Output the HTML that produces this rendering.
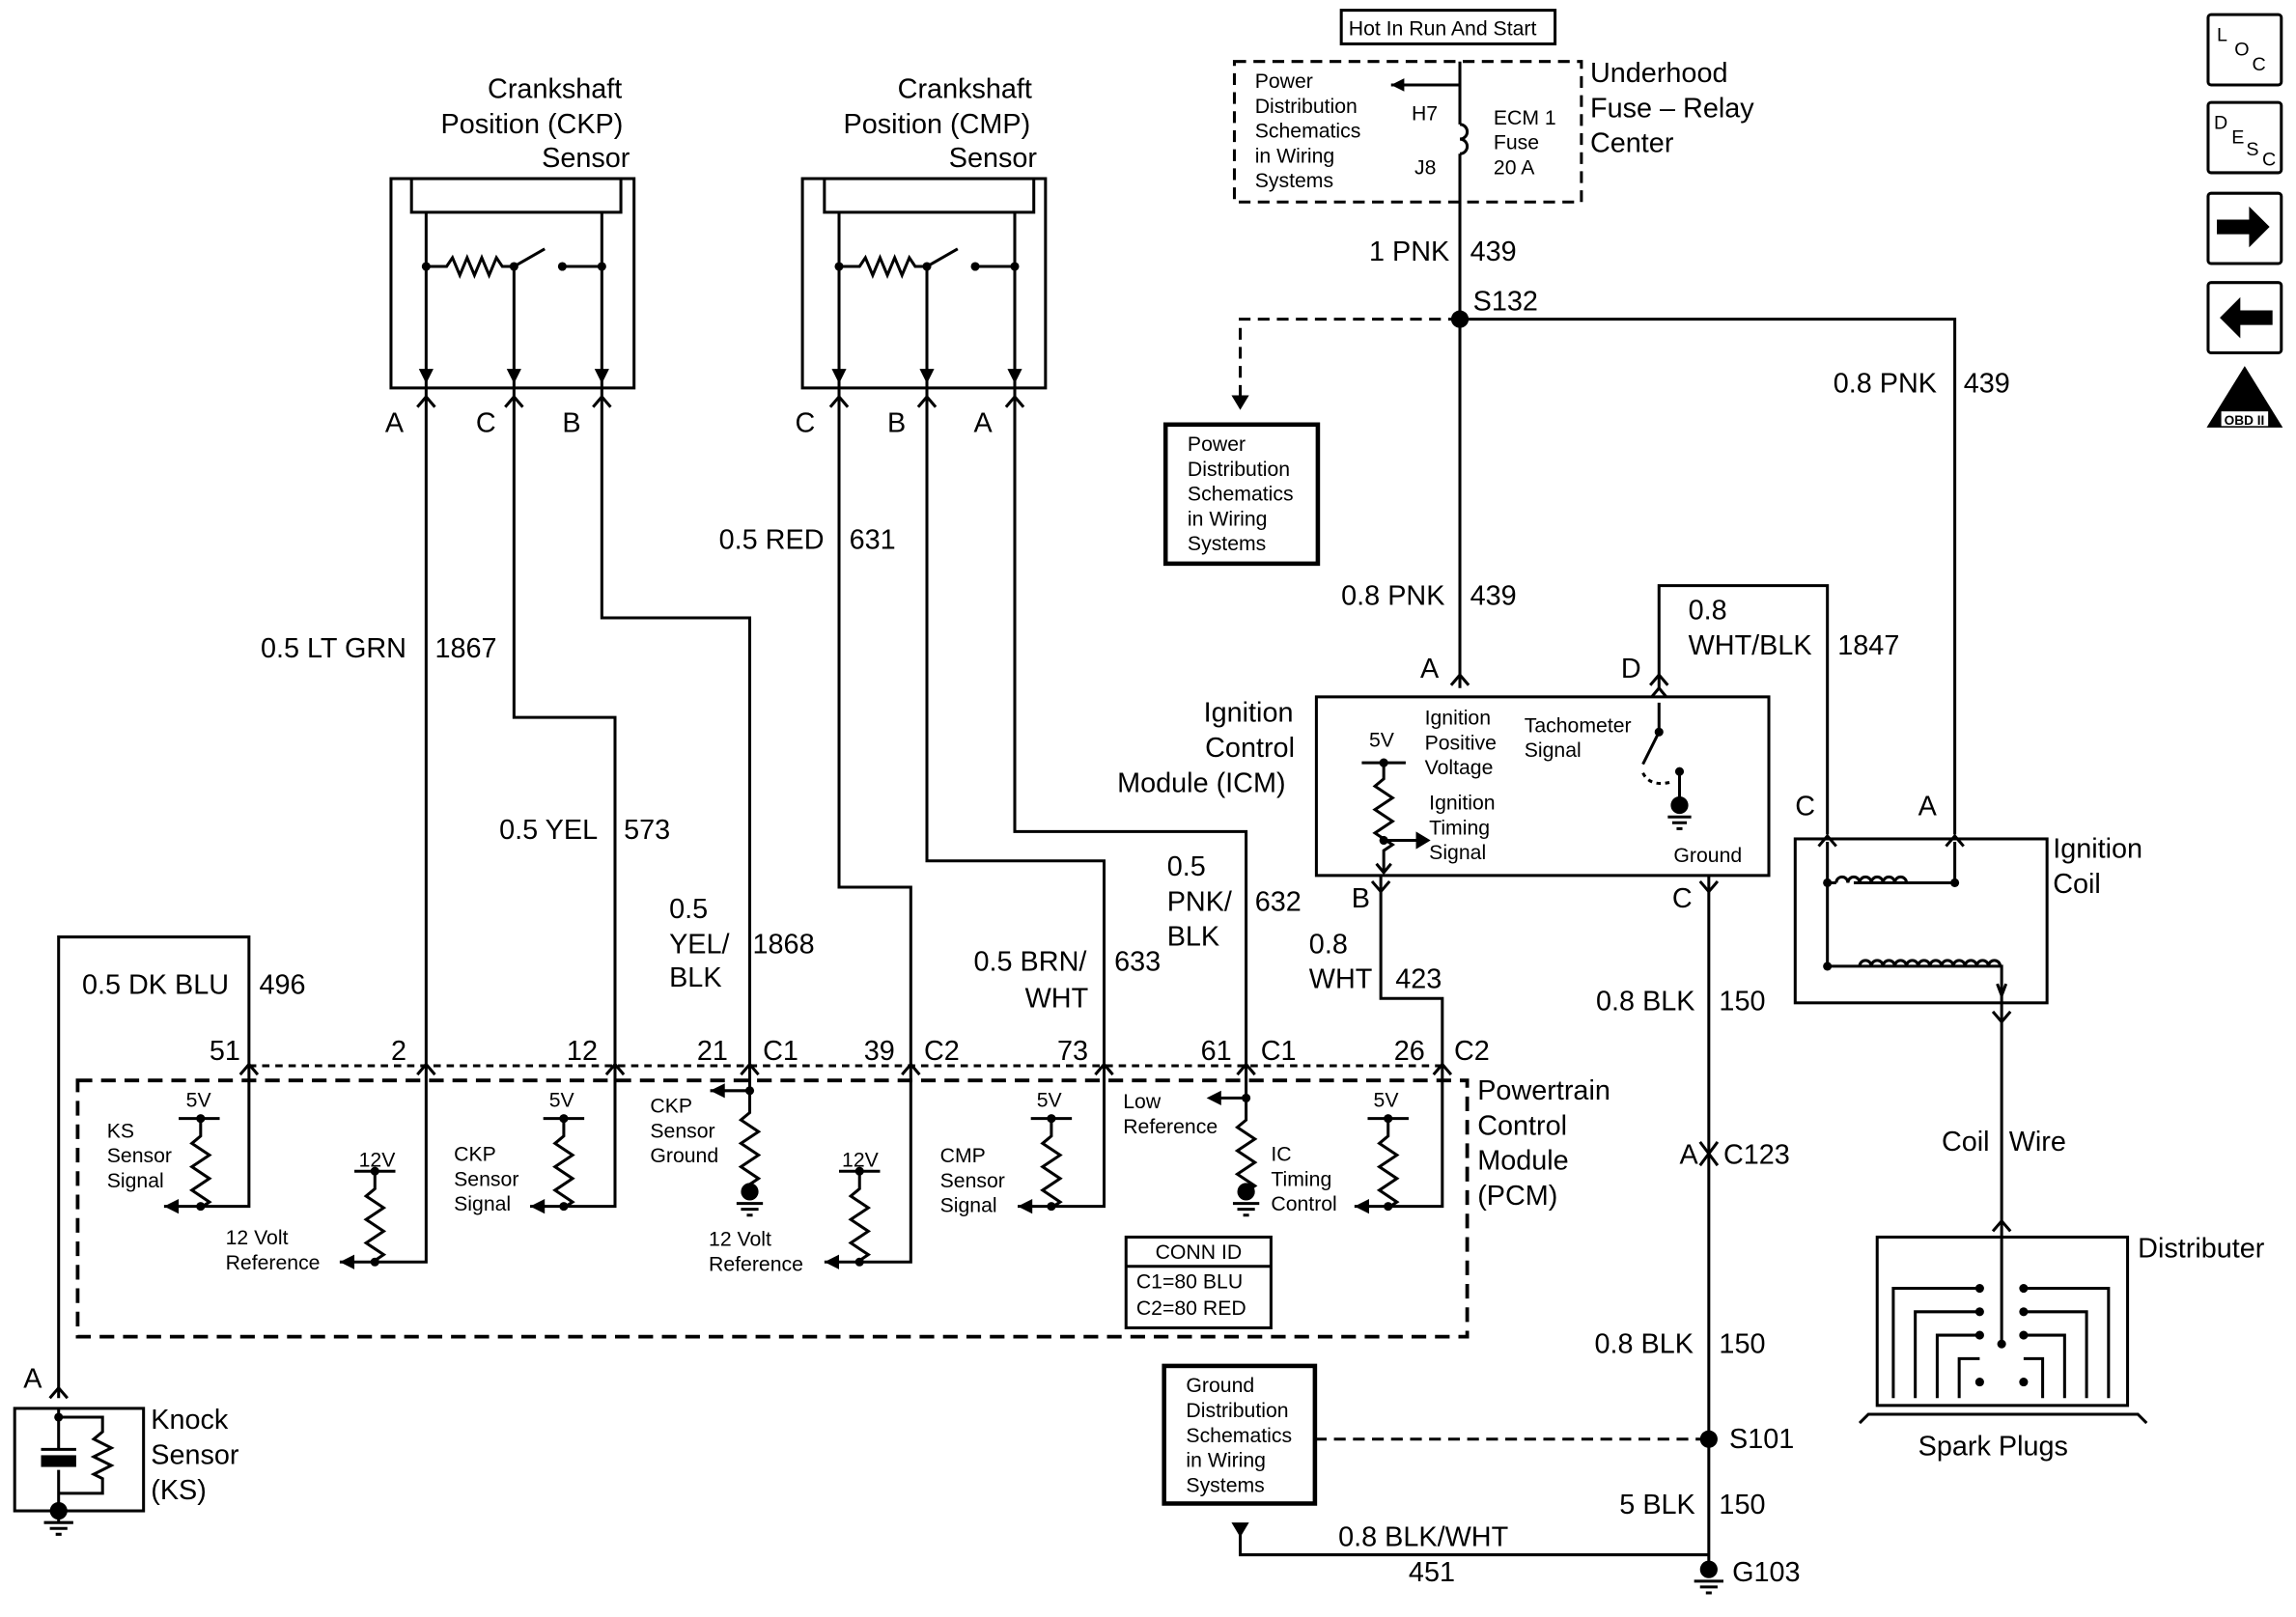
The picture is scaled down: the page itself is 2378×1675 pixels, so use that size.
<!DOCTYPE html>
<html><head><meta charset="utf-8"><style>
html,body{margin:0;padding:0;background:#fff}
svg{display:block}
text{font-family:"Liberation Sans",Arial,sans-serif;fill:#000}
.l{font-size:19px}
.s{font-size:14px}
</style></head><body>
<svg width="2378" height="1675" viewBox="0 0 1568 1104.5" xmlns="http://www.w3.org/2000/svg">
<defs>
<marker id="ar" viewBox="0 0 10 10" refX="10" refY="5" markerWidth="9" markerHeight="9" orient="auto" markerUnits="userSpaceOnUse"><path d="M0,0 L10,5 L0,10 z"/></marker>
</defs>
<g fill="none" stroke="#000" stroke-width="2">
<rect x="916" y="7" width="146" height="23"/>
<rect x="843" y="42" width="237" height="96" stroke-dasharray="8,5"/>
<rect x="796" y="290" width="104" height="95" stroke-width="3"/>
<rect x="795" y="933" width="103" height="94" stroke-width="3"/>
<path d="M997,42 V85 M997,105 V470"/>
<path d="M997,85 a5,5 0 0 1 0,10 a5,5 0 0 1 0,10"/>
<path d="M997,58 H950" marker-end="url(#ar)"/>
<path d="M997,218 H1335 V570"/>
<path d="M997,218 H847 V278" stroke-dasharray="8,5"/>
<rect x="267" y="122" width="166" height="143"/>
<rect x="281" y="122" width="143" height="23"/>
<path d="M291,145 V265 M291,182 H305 l4,-6 5,12 5,-12 5,12 5,-12 5,12 5,-12 4,6 H351 V265 M351,182 L372,170 M384,182 H411 V265 M411,145 V265 M291,265 V728 M351,265 V490 H420 V728 M411,265 V422 H512 V728"/>
<rect x="548" y="122" width="166" height="143"/>
<rect x="563" y="122" width="143" height="23"/>
<path d="M573,145 V265 M573,182 H587 l4,-6 5,12 5,-12 5,12 5,-12 5,12 5,-12 4,6 H633 V265 M633,182 L654,170 M666,182 H693 V265 M693,145 V265 M573,265 V606 H622 V728 M633,265 V588 H754 V728 M693,265 V568 H851 V728"/>
<rect x="899" y="476" width="309" height="122"/>
<path d="M943,598 V682 H985 V728 M1167,598 V1075 M1133,470 V400 H1248 V570"/>
<path d="M930,521 H960 M945,521 V532 l-6,5 12,8 -12,8 12,8 -12,8 12,8 -6,4 V595 M945,574 H970"/>
<path d="M1133,480 V500 M1133,500 L1122,522 M1147,527 V548"/>
<path d="M1122,528 q5,10 20,6" stroke-dasharray="3,3"/>
<rect x="1226" y="573" width="172" height="112"/>
<path d="M1248,575 V660 H1367 V685 M1335,575 V603 H1266 M1248,603 H1254"/>
<path d="M1254,603 a4,4 0 0 1 8,0 a4,4 0 0 1 8,0 a4,4 0 0 1 8,0 a4,4 0 0 1 8,0 a4,4 0 0 1 8,0 a4,4 0 0 1 8,0"/>
<path d="M1270,660 a4,4 0 0 1 8,0 a4,4 0 0 1 8,0 a4,4 0 0 1 8,0 a4,4 0 0 1 8,0 a4,4 0 0 1 8,0 a4,4 0 0 1 8,0 a4,4 0 0 1 8,0 a4,4 0 0 1 8,0 a4,4 0 0 1 8,0 a4,4 0 0 1 8,0 a4,4 0 0 1 8,0 a4,4 0 0 1 8,0"/>
<path d="M1367,685 V845"/>
<rect x="1282" y="845" width="171" height="115"/>
<path d="M1367,845 V918 M1352,880 H1293 V955 M1382,880 H1440 V955 M1352,896 H1308 V955 M1382,896 H1425 V955 M1352,912 H1323 V955 M1382,912 H1410 V955 M1352,928 H1338 V955 M1382,928 H1395 V955"/>
<path d="M1270,972 L1276,966 H1460 L1466,972"/>
<rect x="53" y="738" width="949" height="175" stroke-dasharray="10,6" stroke-width="2.5"/>
<path d="M170,728 H985" stroke-dasharray="5,4"/>
<path d="M40,955 V640 H170 V728 M170,728 V824 H137 M137,764 V776 l-6,5 12,8 -12,8 12,8 -12,8 12,8 -6,4 V824 M122,764 H150 M137,824 H112"/>
<path d="M291,728 V862 H256 M256,800 V812 l-6,5 12,8 -12,8 12,8 -12,8 12,8 -6,4 V862 M242,800 H270 M256,862 H232"/>
<path d="M420,728 V824 H385 M385,764 V776 l-6,5 12,8 -12,8 12,8 -12,8 12,8 -6,4 V824 M371,764 H399 M385,824 H362"/>
<path d="M512,728 V745 H485 M512,745 V760 l-6,5 12,8 -12,8 12,8 -12,8 12,8 -6,4 V814"/>
<path d="M622,728 V862 H587 M587,800 V812 l-6,5 12,8 -12,8 12,8 -12,8 12,8 -6,4 V862 M573,800 H601 M587,862 H563"/>
<path d="M754,728 V824 H718 M718,764 V776 l-6,5 12,8 -12,8 12,8 -12,8 12,8 -6,4 V824 M704,764 H732 M718,824 H695"/>
<path d="M851,728 V750 H830 M851,750 V765 l-6,5 12,8 -12,8 12,8 -12,8 12,8 -6,4 V814"/>
<path d="M985,728 V824 H948 M948,764 V776 l-6,5 12,8 -12,8 12,8 -12,8 12,8 -6,4 V824 M934,764 H962 M948,824 H925"/>
<rect x="769" y="845" width="99" height="62"/>
<path d="M769,865 H868"/>
<rect x="10" y="962" width="88" height="70"/>
<path d="M40,962 V990 M40,1004 V1040 M28,990 H52 M40,968 H70 V978 l-6,5 12,6 -12,6 12,6 -12,6 6,3 V1020 H40"/>
<path d="M898,983 H1167" stroke-dasharray="8,5"/>
<path d="M847,1045 V1062 H1167"/>
<rect x="1508" y="10" width="50" height="48" rx="2"/>
<rect x="1508" y="70" width="50" height="48" rx="2"/>
<rect x="1508" y="132" width="50" height="48" rx="2"/>
<rect x="1508" y="193" width="50" height="48" rx="2"/>
</g>
<g fill="#000">
<circle cx="997" cy="218" r="6"/><circle cx="1167" cy="983" r="6"/><circle cx="1167" cy="1072" r="6"/>
<circle cx="291" cy="182" r="3"/><circle cx="351" cy="182" r="3"/><circle cx="384" cy="182" r="3"/><circle cx="411" cy="182" r="3"/>
<circle cx="573" cy="182" r="3"/><circle cx="633" cy="182" r="3"/><circle cx="666" cy="182" r="3"/><circle cx="693" cy="182" r="3"/>
<circle cx="1147" cy="550" r="6"/><circle cx="1147" cy="527" r="3"/><circle cx="1133" cy="500" r="3"/>
<circle cx="945" cy="521" r="3"/><circle cx="945" cy="574" r="3"/>
<circle cx="1248" cy="603" r="3"/><circle cx="1335" cy="603" r="3"/><circle cx="1248" cy="660" r="3"/>
<circle cx="512" cy="745" r="3"/><circle cx="512" cy="814" r="6"/><circle cx="851" cy="750" r="3"/><circle cx="851" cy="814" r="6"/>
<circle cx="137" cy="764" r="3"/><circle cx="137" cy="824" r="3"/><circle cx="256" cy="800" r="3"/><circle cx="256" cy="862" r="3"/>
<circle cx="385" cy="764" r="3"/><circle cx="385" cy="824" r="3"/><circle cx="587" cy="800" r="3"/><circle cx="587" cy="862" r="3"/>
<circle cx="718" cy="764" r="3"/><circle cx="718" cy="824" r="3"/><circle cx="948" cy="764" r="3"/><circle cx="948" cy="824" r="3"/>
<circle cx="1352" cy="880" r="3"/><circle cx="1382" cy="880" r="3"/><circle cx="1352" cy="896" r="3"/><circle cx="1382" cy="896" r="3"/>
<circle cx="1352" cy="912" r="3"/><circle cx="1382" cy="912" r="3"/><circle cx="1352" cy="944" r="3"/><circle cx="1382" cy="944" r="3"/><circle cx="1367" cy="918" r="3"/>
<circle cx="40" cy="968" r="3"/><circle cx="40" cy="1032" r="6"/>
<rect x="28" y="994" width="24" height="8"/>
<path d="M841,270 L853,270 847,280z"/><path d="M841,1040 L853,1040 847,1050z"/>
<path d="M977,574 L967,568 967,580z"/><path d="M112,824 l10,-5 v10z"/><path d="M232,862 l10,-5 v10z"/><path d="M362,824 l10,-5 v10z"/><path d="M563,862 l10,-5 v10z"/><path d="M695,824 l10,-5 v10z"/><path d="M925,824 l10,-5 v10z"/><path d="M485,745 l10,-5 v10z"/><path d="M824,750 l10,-5 v10z"/>
<path d="M286,252 h10 l-5,10z M346,252 h10 l-5,10z M406,252 h10 l-5,10z M568,252 h10 l-5,10z M628,252 h10 l-5,10z M688,252 h10 l-5,10z"/>
<path d="M1514,150 h22 v-9 l14,14 -14,14 v-9 h-22z"/><path d="M1552,212 h-22 v-9 l-14,14 14,14 v-9 h22z"/>
<path d="M1533,250 l-26,42 h52z"/>
</g>
<g stroke="#000" stroke-width="2">
<path d="M1157,1080 h20 M1161,1084 h12 M1165,1088 h4 M1139,558 h16 M1142,562 h10 M1145,566 h4 M30,1040 h20 M34,1044 h12 M38,1048 h4 M503,822 h18 M506,826 h12 M510,830 h4 M842,822 h18 M845,826 h12 M849,830 h4"/>
</g>
<g fill="none" stroke="#000" stroke-width="2">
<path d="M285,278 l6,-7 6,7 M345,278 l6,-7 6,7 M405,278 l6,-7 6,7 M567,278 l6,-7 6,7 M627,278 l6,-7 6,7 M687,278 l6,-7 6,7"/>
<path d="M164,734 l6,-7 6,7 M285,734 l6,-7 6,7 M414,734 l6,-7 6,7 M506,734 l6,-7 6,7 M616,734 l6,-7 6,7 M748,734 l6,-7 6,7 M845,734 l6,-7 6,7 M979,734 l6,-7 6,7"/>
<path d="M991,468 l6,-7 6,7 M1127,468 l6,-7 6,7 M1242,578 l6,-7 6,7 M1329,578 l6,-7 6,7 M34,955 l6,-7 6,7 M1361,841 l6,-7 6,7"/>
<path d="M937,602 l6,7 6,-7 M1161,602 l6,7 6,-7 M1361,691 l6,7 6,-7 M1128,476 l5,-6 5,6"/>
<path d="M1161,780 l6,8 6,-8 M1161,796 l6,-8 6,8"/>
<path d="M940,590 l5,6 5,-6 M1364,672 l3,8 3,-8"/>
</g>
<text class="s" x="921" y="24">Hot In Run And Start</text>
<g class="s"><text x="857" y="60">Power</text><text x="857" y="77">Distribution</text><text x="857" y="94">Schematics</text><text x="857" y="111">in Wiring</text><text x="857" y="128">Systems</text>
<text x="964" y="82">H7</text><text x="966" y="119">J8</text><text x="1020" y="85">ECM 1</text><text x="1020" y="102">Fuse</text><text x="1020" y="119">20 A</text>
<text x="811" y="308">Power</text><text x="811" y="325">Distribution</text><text x="811" y="342">Schematics</text><text x="811" y="359">in Wiring</text><text x="811" y="376">Systems</text>
<text x="810" y="951">Ground</text><text x="810" y="968">Distribution</text><text x="810" y="985">Schematics</text><text x="810" y="1002">in Wiring</text><text x="810" y="1019">Systems</text>
<text x="973" y="495">Ignition</text><text x="973" y="512">Positive</text><text x="973" y="529">Voltage</text>
<text x="976" y="553">Ignition</text><text x="976" y="570">Timing</text><text x="976" y="587">Signal</text>
<text x="1041" y="500">Tachometer</text><text x="1041" y="517">Signal</text><text x="1143" y="589">Ground</text>
<text x="935" y="510">5V</text>
<text x="127" y="756">5V</text><text x="245" y="797">12V</text><text x="375" y="756">5V</text><text x="575" y="797">12V</text><text x="708" y="756">5V</text><text x="938" y="756">5V</text>
<text x="73" y="777">KS</text><text x="73" y="794">Sensor</text><text x="73" y="811">Signal</text>
<text x="154" y="850">12 Volt</text><text x="154" y="867">Reference</text>
<text x="310" y="793">CKP</text><text x="310" y="810">Sensor</text><text x="310" y="827">Signal</text>
<text x="444" y="760">CKP</text><text x="444" y="777">Sensor</text><text x="444" y="794">Ground</text>
<text x="484" y="851">12 Volt</text><text x="484" y="868">Reference</text>
<text x="642" y="794">CMP</text><text x="642" y="811">Sensor</text><text x="642" y="828">Signal</text>
<text x="767" y="757">Low</text><text x="767" y="774">Reference</text>
<text x="868" y="793">IC</text><text x="868" y="810">Timing</text><text x="868" y="827">Control</text>
<text x="789" y="860">CONN ID</text><text x="776" y="880">C1=80 BLU</text><text x="776" y="898">C2=80 RED</text>
</g>
<g class="l">
<text x="1086" y="56">Underhood</text><text x="1086" y="80">Fuse – Relay</text><text x="1086" y="104">Center</text>
<text x="935" y="178">1 PNK</text><text x="1004" y="178">439</text><text x="1006" y="212">S132</text>
<text x="1252" y="268">0.8 PNK</text><text x="1341" y="268">439</text>
<text x="916" y="413">0.8 PNK</text><text x="1004" y="413">439</text>
<text x="1153" y="423">0.8</text><text x="1153" y="447">WHT/BLK</text><text x="1255" y="447">1847</text>
<text x="970" y="463">A</text><text x="1107" y="463">D</text><text x="1226" y="557">C</text><text x="1310" y="557">A</text>
<text x="822" y="493">Ignition</text><text x="823" y="517">Control</text><text x="763" y="541">Module (ICM)</text>
<text x="1402" y="586">Ignition</text><text x="1402" y="610">Coil</text>
<text x="923" y="620">B</text><text x="1142" y="620">C</text>
<text x="333" y="67">Crankshaft</text><text x="301" y="91">Position (CKP)</text><text x="370" y="114">Sensor</text>
<text x="613" y="67">Crankshaft</text><text x="576" y="91">Position (CMP)</text><text x="648" y="114">Sensor</text>
<text x="263" y="295">A</text><text x="325" y="295">C</text><text x="384" y="295">B</text><text x="543" y="295">C</text><text x="606" y="295">B</text><text x="665" y="295">A</text>
<text x="491" y="375">0.5 RED</text><text x="580" y="375">631</text>
<text x="178" y="449">0.5 LT GRN</text><text x="297" y="449">1867</text>
<text x="341" y="573">0.5 YEL</text><text x="426" y="573">573</text>
<text x="457" y="627">0.5</text><text x="457" y="651">YEL/</text><text x="457" y="674">BLK</text><text x="514" y="651">1868</text>
<text x="797" y="598">0.5</text><text x="797" y="622">PNK/</text><text x="797" y="646">BLK</text><text x="857" y="622">632</text>
<text x="665" y="663">0.5 BRN/</text><text x="700" y="688">WHT</text><text x="761" y="663">633</text>
<text x="894" y="651">0.8</text><text x="894" y="675">WHT</text><text x="953" y="675">423</text>
<text x="56" y="679">0.5 DK BLU</text><text x="177" y="679">496</text>
<text x="1090" y="690">0.8 BLK</text><text x="1174" y="690">150</text>
<text x="143" y="724">51</text><text x="267" y="724">2</text><text x="387" y="724">12</text><text x="476" y="724">21</text><text x="521" y="724">C1</text>
<text x="590" y="724">39</text><text x="631" y="724">C2</text><text x="722" y="724">73</text><text x="820" y="724">61</text><text x="861" y="724">C1</text><text x="952" y="724">26</text><text x="993" y="724">C2</text>
<text x="1009" y="751">Powertrain</text><text x="1009" y="775">Control</text><text x="1009" y="799">Module</text><text x="1009" y="823">(PCM)</text>
<text x="1326" y="786">Coil</text><text x="1372" y="786">Wire</text>
<text x="1147" y="795">A</text><text x="1177" y="795">C123</text>
<text x="1460" y="859">Distributer</text>
<text x="1089" y="924">0.8 BLK</text><text x="1174" y="924">150</text>
<text x="1181" y="989">S101</text><text x="1310" y="994">Spark Plugs</text>
<text x="1106" y="1034">5 BLK</text><text x="1174" y="1034">150</text>
<text x="914" y="1056">0.8 BLK/WHT</text><text x="962" y="1080">451</text><text x="1183" y="1080">G103</text>
<text x="16" y="948">A</text>
<text x="103" y="976">Knock</text><text x="103" y="1000">Sensor</text><text x="103" y="1024">(KS)</text>
</g>
<g style="font-size:13px">
<text x="1514" y="28">L</text><text x="1526" y="38">O</text><text x="1538" y="48">C</text>
<text x="1512" y="88">D</text><text x="1524" y="98">E</text><text x="1534" y="106">S</text><text x="1545" y="113">C</text>
</g>
<text x="1524" y="278" style="font-size:14px;font-weight:bold" fill="#fff">II</text>
<rect x="1517" y="281" width="32" height="10" fill="#fff"/>
<text x="1519" y="290" style="font-size:9px;font-weight:bold">OBD II</text>
</svg>
</body></html>
